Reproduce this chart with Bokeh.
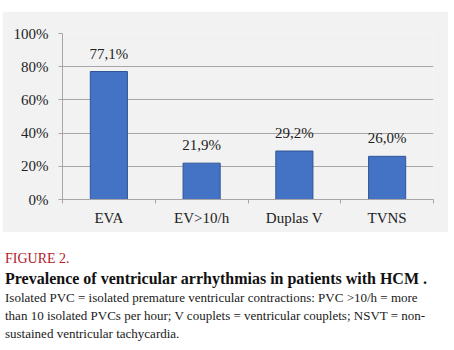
import html
import numpy as np
from bokeh.plotting import figure
from bokeh.models import ColumnDataSource, Range1d, FixedTicker, PrintfTickFormatter, Div
from bokeh.layouts import column
from bokeh.core.properties import value
from bokeh.embed import file_html
from bokeh.resources import INLINE

# ---- data ----
categories = ["EVA", "EV>10/h", "Duplas V", "TVNS"]
prevalence = [77.1, 21.9, 29.2, 26.0]
value_labels = ["77,1%", "21,9%", "29,2%", "26,0%"]
y_ticks = [0, 20, 40, 60, 80, 100]

fig_label = "FIGURE 2."
title_text = "Prevalence of ventricular arrhythmias in patients with HCM ."
caption_lines = [
    "Isolated PVC = isolated premature ventricular contractions: PVC >10/h = more",
    "than 10 isolated PVCs per hour; V couplets = ventricular couplets; NSVT = non-",
    "sustained ventricular tachycardia.",
]

SERIF = "Liberation Serif"
PANEL = "#f2f2f2"
GRID = "#a6a6a6"
BAR = "#4472c4"
BAR_EDGE = "#2f5597"

x_pos = np.arange(len(categories)) + 0.5
src = ColumnDataSource(dict(x=x_pos, top=prevalence, lab=value_labels))

p = figure(width=446, height=221, output_backend="svg", toolbar_location=None,
           x_range=Range1d(0, len(categories)), y_range=Range1d(0, 100),
           min_border_left=60, min_border_right=15, min_border_top=22, min_border_bottom=33,
           background_fill_color=PANEL, border_fill_color=PANEL,
           outline_line_color=None, margin=(11, 6, 0, 2))

p.vbar(x="x", top="top", width=0.4, source=src, fill_color=BAR, line_color=BAR_EDGE, line_width=1)
p.text(x="x", y="top", text="lab", source=src, text_align="center", text_baseline="bottom",
       y_offset=-10, text_font=value(SERIF), text_font_size="15px", text_color="#222222")

# x axis: labels at centers, tick marks at category boundaries
p.xaxis.ticker = FixedTicker(ticks=list(x_pos), minor_ticks=list(range(len(categories) + 1)))
p.xaxis.major_label_overrides = {float(x): c for x, c in zip(x_pos, categories)}
p.xaxis.major_tick_out = 0
p.xaxis.major_tick_in = 0
p.xaxis.minor_tick_out = 4
p.xaxis.minor_tick_in = 0
p.xaxis.minor_tick_line_color = GRID
p.xaxis.axis_line_color = GRID
p.xaxis.major_label_text_font = SERIF
p.xaxis.major_label_text_font_size = "15px"
p.xaxis.major_label_text_color = "#222222"
p.xaxis.major_label_standoff = 6

p.yaxis.ticker = FixedTicker(ticks=y_ticks)
p.yaxis.formatter = PrintfTickFormatter(format="%d%%")
p.yaxis.major_tick_out = 4
p.yaxis.major_tick_in = 0
p.yaxis.minor_tick_line_color = None
p.yaxis.major_tick_line_color = GRID
p.yaxis.axis_line_color = GRID
p.yaxis.major_label_text_font = SERIF
p.yaxis.major_label_text_font_size = "15px"
p.yaxis.major_label_text_color = "#222222"
p.yaxis.major_label_standoff = 10

p.xgrid.grid_line_color = None
p.ygrid.grid_line_color = GRID
p.ygrid.ticker = FixedTicker(ticks=y_ticks)

# ---- caption as HTML text ----
def line_div(txt, top, size, color, weight="normal"):
    return (f'<div style="position:absolute;left:5px;top:{top}px;font-size:{size}px;'
            f'line-height:{size}px;color:{color};font-weight:{weight};white-space:nowrap;">'
            f'{html.escape(txt)}</div>')

parts = [line_div(fig_label, 20, 14, "#b2202a"),
         line_div(title_text, 39, 16, "#111111", "bold")]
for i, line in enumerate(caption_lines):
    parts.append(line_div(line, 59 + 18 * i, 13, "#1a1a1a"))

cap_html = (f'<div style="position:relative;width:454px;height:118px;margin:0;padding:0;'
            f'font-family:\'{SERIF}\',serif;">' + "".join(parts) + "</div>")
cap = Div(text=cap_html, width=454, height=118, margin=(0, 0, 0, 0))

layout = column(p, cap, spacing=0)
open("out.html", "w").write(file_html(layout, INLINE))
